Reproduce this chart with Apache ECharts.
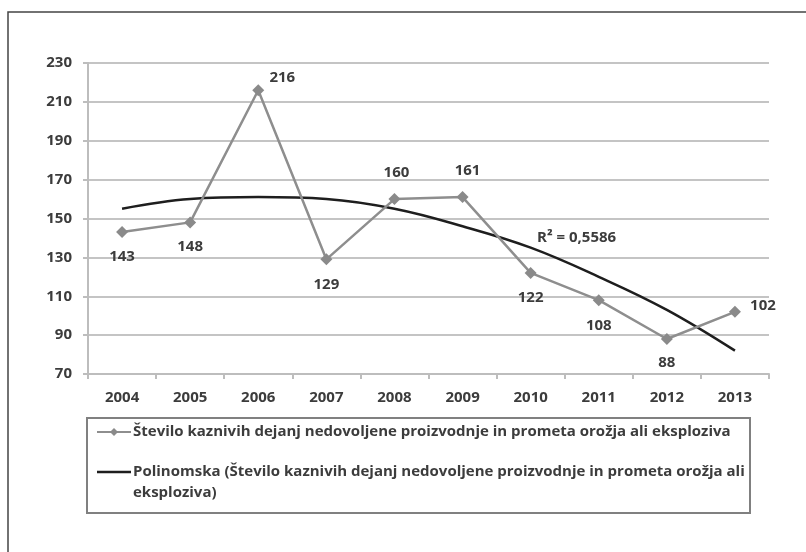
<!DOCTYPE html>
<html>
<head>
<meta charset="utf-8">
<script src="https://cdn.jsdelivr.net/npm/echarts@6/dist/echarts.min.js"></script>
<style>html,body{margin:0;padding:0;background:#fff}#c{width:806px;height:552px}</style>
</head>
<body>
<div id="c"></div>
<script>
var categories = ['2004','2005','2006','2007','2008','2009','2010','2011','2012','2013'];
var crimeValues = [143, 148, 216, 129, 160, 161, 122, 108, 88, 102];
var trendValues = [155, 160, 161, 160, 155, 146, 135, 120, 103, 82];
var yTicks = [70, 90, 110, 130, 150, 170, 190, 210, 230];
var seriesName1 = 'Število kaznivih dejanj nedovoljene proizvodnje in prometa orožja ali eksploziva';
var seriesName2 = 'Polinomska (Število kaznivih dejanj nedovoljene proizvodnje in prometa orožja ali eksploziva)';
var r2Text = 'R² = 0,5586';

var FONT = '"Open Sans", sans-serif';
var TXT = '#3c3c3c';
var labelOffsets = [[0,25],[0,24],[24,-12],[0,25],[2,-26],[5,-26],[0,25],[0,26],[0,24],[28,-6]];

var crimeData = crimeValues.map(function(v, i){
  return {value: v, label: {offset: labelOffsets[i]}};
});

var chart = echarts.init(document.getElementById('c'), null, {renderer:'canvas'});
chart.setOption({
  animation: false,
  backgroundColor: '#fff',
  grid: {left: 88, right: 37, top: 63, bottom: 178},
  xAxis: {
    type: 'category', data: categories, boundaryGap: true,
    axisLine: {lineStyle: {color: '#bdbdbd', width: 2}},
    axisTick: {show: true, length: 5, lineStyle: {color: '#bdbdbd', width: 2}},
    axisLabel: {color: TXT, fontFamily: FONT, fontWeight: 'bold', fontSize: 15, margin: 16}
  },
  yAxis: {
    type: 'value', min: yTicks[0], max: yTicks[yTicks.length-1], interval: 20,
    axisLine: {show: true, lineStyle: {color: '#bdbdbd', width: 2}},
    axisTick: {show: true, length: 5, lineStyle: {color: '#bdbdbd', width: 2}},
    splitLine: {lineStyle: {color: '#c4c4c4', width: 2}},
    axisLabel: {color: TXT, fontFamily: FONT, fontWeight: 'bold', fontSize: 15, margin: 16}
  },
  series: [
    {
      name: seriesName2, type: 'line', data: trendValues, smooth: 0.4,
      showSymbol: false, z: 3,
      lineStyle: {color: '#1e1e1e', width: 2.5}
    },
    {
      name: seriesName1, type: 'line', data: crimeData, z: 4,
      symbol: 'diamond', symbolSize: 12,
      itemStyle: {color: '#8a8a8a'},
      lineStyle: {color: '#8e8e8e', width: 2.5},
      label: {show: true, position: 'inside', color: TXT, fontFamily: FONT, fontWeight: 'bold', fontSize: 15}
    }
  ],
  graphic: [
    {type: 'rect', shape: {x: 8, y: 12, width: 830, height: 580}, style: {fill: 'none', stroke: '#444', lineWidth: 1.5}, silent: true},
    {type: 'text', x: 537, y: 238, style: {text: r2Text, fill: TXT, font: 'bold 15px ' + FONT, textVerticalAlign: 'middle'}},
    {type: 'rect', shape: {x: 87, y: 418, width: 663, height: 95}, style: {fill: 'none', stroke: '#808080', lineWidth: 2}},
    {type: 'line', shape: {x1: 97, y1: 432, x2: 131, y2: 432}, style: {stroke: '#8e8e8e', lineWidth: 2}},
    {type: 'polygon', shape: {points: [[114,428],[118,432],[114,436],[110,432]]}, style: {fill: '#8a8a8a'}},
    {type: 'text', x: 133, y: 432, style: {text: seriesName1, fill: TXT, font: 'bold 15px ' + FONT, textVerticalAlign: 'middle'}},
    {type: 'line', shape: {x1: 97, y1: 472, x2: 131, y2: 472}, style: {stroke: '#1e1e1e', lineWidth: 2.5}},
    {type: 'text', x: 133, y: 472, style: {text: 'Polinomska (Število kaznivih dejanj nedovoljene proizvodnje in prometa orožja ali', fill: TXT, font: 'bold 15px ' + FONT, textVerticalAlign: 'middle'}},
    {type: 'text', x: 133, y: 493, style: {text: 'eksploziva)', fill: TXT, font: 'bold 15px ' + FONT, textVerticalAlign: 'middle'}}
  ]
});
</script>
</body>
</html>
